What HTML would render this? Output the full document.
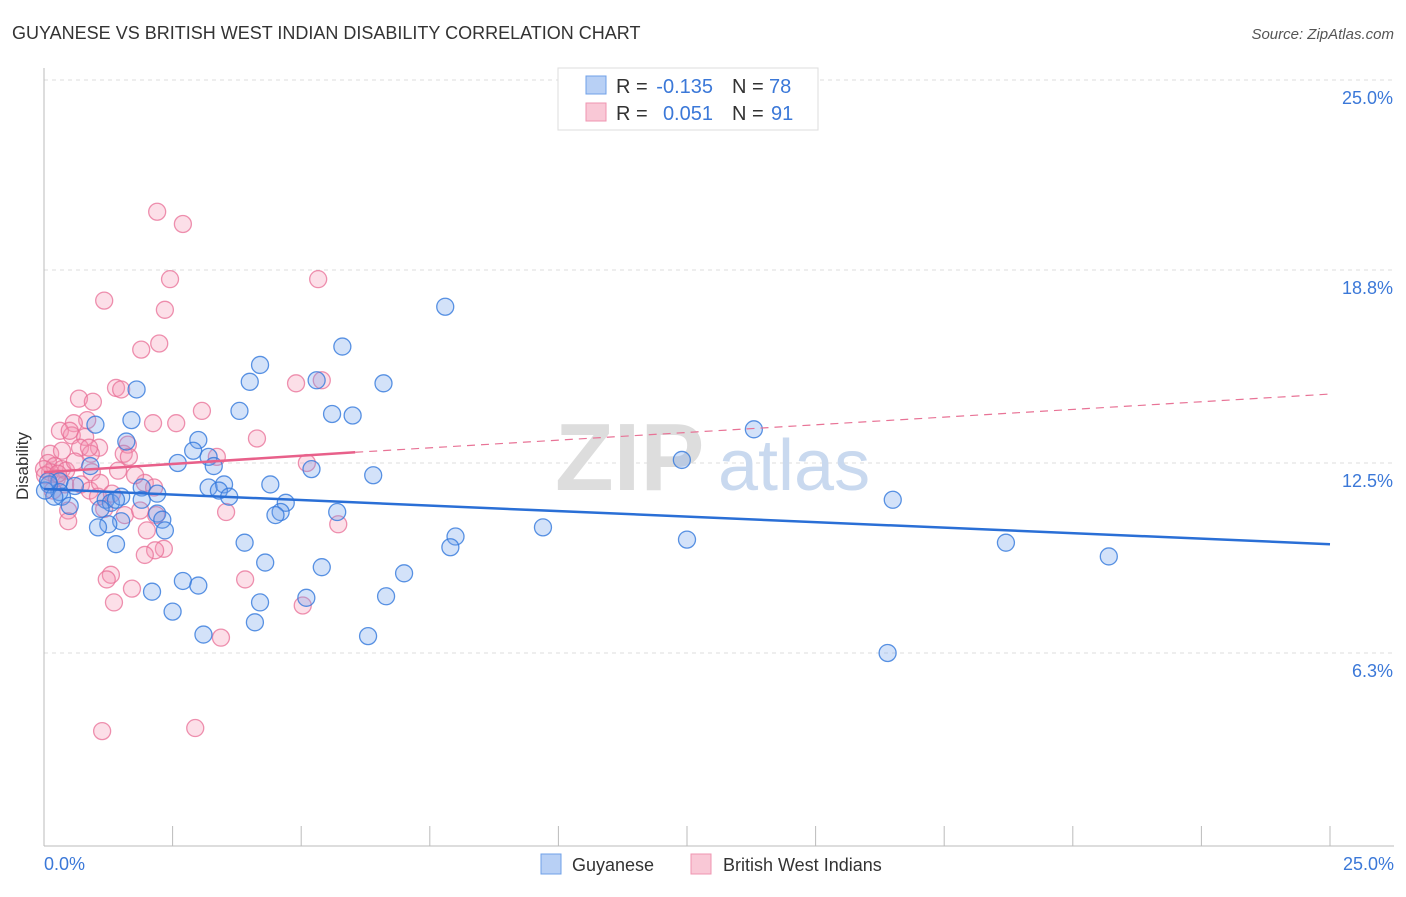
<!DOCTYPE html>
<html><head><meta charset="utf-8"><style>
body{margin:0;background:#fff;font-family:"Liberation Sans",sans-serif;}
</style></head><body>
<svg width="1406" height="892" viewBox="0 0 1406 892" xmlns="http://www.w3.org/2000/svg">
<text x="12" y="39" font-size="18" fill="#333">GUYANESE VS BRITISH WEST INDIAN DISABILITY CORRELATION CHART</text>
<text x="1394" y="39" font-size="15" fill="#555" font-style="italic" text-anchor="end">Source: ZipAtlas.com</text>
<g id="grid"></g>
<line x1="44" y1="68" x2="44" y2="846" stroke="#bbb"/>
<line x1="44" y1="846" x2="1394" y2="846" stroke="#bbb"/>
<text x="555" y="490" font-size="96" fill="#ddd" font-weight="bold">ZIP</text>
<text x="718" y="490" font-size="72" fill="#c9d9ef">atlas</text>
<g id="pts"></g>
<g id="trend"></g>
<text x="18" y="456" font-size="17" fill="#333" transform="rotate(-90 28 456)" text-anchor="middle">Disability</text>
<text x="44" y="870" font-size="18" fill="#3b78d8">0.0%</text>
<text x="1394" y="870" font-size="18" fill="#3b78d8" text-anchor="end">25.0%</text>
<g>
<rect x="558" y="68" width="260" height="62" fill="#fff" stroke="#ddd"/>
<rect x="586" y="76" width="20" height="18" fill="#b8d0f5" stroke="#6fa0e8"/>
<rect x="586" y="103" width="20" height="18" fill="#f9c8d6" stroke="#ef95b0"/>
<text x="616" y="93" font-size="20" fill="#333">R =</text>
<text x="713" y="93" font-size="20" fill="#3b78d8" text-anchor="end">-0.135</text>
<text x="732" y="93" font-size="20" fill="#333">N =</text>
<text x="769" y="93" font-size="20" fill="#3b78d8">78</text>
<text x="616" y="120" font-size="20" fill="#333">R =</text>
<text x="713" y="120" font-size="20" fill="#3b78d8" text-anchor="end">0.051</text>
<text x="732" y="120" font-size="20" fill="#333">N =</text>
<text x="771" y="120" font-size="20" fill="#3b78d8">91</text>
</g>
<g>
<rect x="541" y="854" width="20" height="20" fill="#b8d0f5" stroke="#6fa0e8"/>
<text x="572" y="871" font-size="18" fill="#333">Guyanese</text>
<rect x="691" y="854" width="20" height="20" fill="#f9c8d6" stroke="#ef95b0"/>
<text x="723" y="871" font-size="18" fill="#333">British West Indians</text>
</g>
</svg>
<script>
const yTicks=[6.3,12.5,18.8,25.0];
const yTickLabels=["6.3%","12.5%","18.8%","25.0%"];
const blueX=[7.8,5.8,4.2,4.0,6.6,1.8,5.3,3.8,5.6,6.0,1.7,1.0,13.8,1.6,3.0,2.9,3.2,2.6,3.3,5.2,6.4,12.4,0.9,0.3,0.6,0.1,0.3,0.35,0.2,0.5,1.2,1.3,1.5,1.9,2.2,3.2,3.5,3.4,3.6,4.4,4.7,4.6,4.5,5.7,2.2,2.3,2.35,1.1,1.5,1.25,1.05,1.4,3.9,4.3,5.4,8.0,7.9,9.7,12.5,16.5,18.7,20.7,7.0,2.7,3.0,2.1,5.1,6.65,4.2,2.5,4.1,3.1,6.3,16.4,0.02,0.08,1.9,1.4];
const blueY=[17.6,16.3,15.7,15.15,15.1,14.9,15.2,14.2,14.1,14.05,13.9,13.75,13.6,13.2,13.25,12.9,12.7,12.5,12.4,12.3,12.1,12.6,12.4,11.9,11.75,11.8,11.55,11.4,11.4,11.1,11.3,11.2,11.4,11.7,11.5,11.7,11.8,11.6,11.4,11.8,11.2,10.9,10.8,10.9,10.85,10.65,10.3,11.0,10.6,10.5,10.4,9.85,9.9,9.25,9.1,10.1,9.75,10.4,10.0,11.3,9.9,9.45,8.9,8.65,8.5,8.3,8.1,8.15,7.95,7.65,7.3,6.9,6.85,6.3,11.6,11.9,11.3,11.3];
const pinkX=[2.2,2.7,2.45,5.33,1.17,2.35,2.24,1.89,4.9,5.4,1.4,1.5,0.68,0.95,3.07,0.84,2.12,2.57,0.58,0.31,0.54,0.8,1.07,0.7,4.14,1.63,0.91,1.55,1.65,3.36,5.11,0.12,0.08,0.21,0.35,0.43,0.12,0.25,1.44,0.93,0.41,0.72,0.89,1.05,1.17,1.57,1.96,2.14,1.87,2.18,0.17,0.47,0.47,3.54,5.72,2.0,2.33,2.16,1.96,3.91,1.3,1.22,1.71,1.36,5.03,3.44,1.13,2.94,0.0,0.02,0.27,0.6,0.875,1.09,1.32,1.77,0.5,0.35];
const pinkY=[20.7,20.3,18.5,18.5,17.8,17.5,16.4,16.2,15.1,15.2,14.95,14.9,14.6,14.5,14.2,13.9,13.8,13.8,13.8,13.55,13.4,13.35,13.0,13.0,13.3,13.1,12.8,12.8,12.7,12.7,12.5,12.8,12.5,12.4,12.3,12.25,12.2,12.0,12.25,12.2,11.8,11.8,11.6,11.4,11.0,10.8,11.85,11.7,10.95,10.8,11.6,10.95,10.6,10.9,10.5,10.3,9.7,9.65,9.5,8.7,8.85,8.7,8.4,7.95,7.85,6.8,3.75,3.85,12.3,12.1,12.15,12.55,13.0,11.85,11.5,12.1,13.55,12.9];
const NS="http://www.w3.org/2000/svg";
const X0=44,X1=1330,Y0=846,Y25=80;
const sx=v=>X0+v/25*(X1-X0);
const sy=v=>Y0-v/25*(Y0-Y25);
const grid=document.getElementById('grid');
yTicks.forEach((t,i)=>{
 const l=document.createElementNS(NS,'line');
 l.setAttribute('x1',44);l.setAttribute('x2',1394);
 l.setAttribute('y1',sy(t));l.setAttribute('y2',sy(t));
 l.setAttribute('stroke','#ddd');l.setAttribute('stroke-dasharray','4,4');
 
 
 grid.appendChild(l);
 const tx=document.createElementNS(NS,'text');
 tx.setAttribute('x',1393);tx.setAttribute('y',sy(t)+24);
 tx.setAttribute('text-anchor','end');tx.setAttribute('font-size','18');tx.setAttribute('fill','#3b78d8');
 tx.textContent=yTickLabels[i];
 
 
 grid.appendChild(tx);
});
for(let i=1;i<=10;i++){
 const x=X0+i*(X1-X0)/10;
 const l=document.createElementNS(NS,'line');
 l.setAttribute('x1',x);l.setAttribute('x2',x);l.setAttribute('y1',826);l.setAttribute('y2',846);
 l.setAttribute('stroke','#bbb');
 
 
 grid.appendChild(l);
}
const pts=document.getElementById('pts');
function dots(xs,ys,fill,stroke,name){
 xs.forEach((v,i)=>{
  const c=document.createElementNS(NS,'circle');
  c.setAttribute('cx',sx(v));c.setAttribute('cy',sy(ys[i]));c.setAttribute('r',8.5);
  c.setAttribute('fill',fill);c.setAttribute('stroke',stroke);c.setAttribute('stroke-width','1.3');
  
  
  pts.appendChild(c);
 });
}
dots(pinkX,pinkY,'rgba(244,150,180,0.3)','rgba(232,110,150,0.75)','british-west-indian-point');
dots(blueX,blueY,'rgba(110,160,235,0.3)','rgba(50,120,220,0.8)','guyanese-point');
const tr=document.getElementById('trend');
function line(x1,y1,x2,y2,col,w,dash,name){
 const l=document.createElementNS(NS,'line');
 l.setAttribute('x1',sx(x1));l.setAttribute('y1',sy(y1));l.setAttribute('x2',sx(x2));l.setAttribute('y2',sy(y2));
 l.setAttribute('stroke',col);l.setAttribute('stroke-width',w);if(dash)l.setAttribute('stroke-dasharray',dash);
 
 
 tr.appendChild(l);
}
line(0,11.65,25,9.85,'#2a6fd6',2.5,null,'guyanese-trend-line');
line(6.05,12.85,25,14.75,'#e87396',1.2,'8,6','british-west-indian-trend-extension');
line(0,12.2,6.05,12.85,'#e8608a',2.5,null,'british-west-indian-trend-line');
</script>
</body></html>
